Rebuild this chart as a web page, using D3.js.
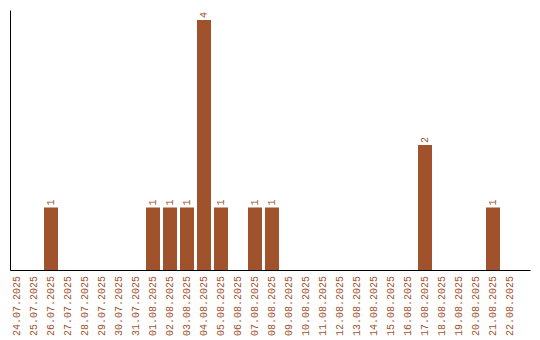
<!DOCTYPE html>
<html>
<head>
<meta charset="utf-8">
<script src="https://cdn.jsdelivr.net/npm/d3@7"></script>
<style>
  body { margin: 0; background: #fff; }
  text { font-family: "Liberation Mono", "DejaVu Sans Mono", monospace; font-size: 10px; fill: #a0522d; }
</style>
</head>
<body>
<div id="chart"></div>
<script>
// dates shown on the x axis
const dates = ['24.07.2025', '25.07.2025', '26.07.2025', '27.07.2025', '28.07.2025', '29.07.2025',
  '30.07.2025', '31.07.2025', '01.08.2025', '02.08.2025', '03.08.2025', '04.08.2025',
  '05.08.2025', '06.08.2025', '07.08.2025', '08.08.2025', '09.08.2025', '10.08.2025',
  '11.08.2025', '12.08.2025', '13.08.2025', '14.08.2025', '15.08.2025', '16.08.2025',
  '17.08.2025', '18.08.2025', '19.08.2025', '20.08.2025', '21.08.2025', '22.08.2025'];
// count per day
const counts = [0, 0, 1, 0, 0, 0, 0, 0, 1, 1, 1, 4, 1, 0, 1, 1, 0, 0, 0, 0, 0, 0, 0, 0, 2, 0, 0, 0, 1, 0];

const data = dates.map((d, i) => ({ date: d, count: counts[i] }));

const width = 540, height = 340;
const margin = { top: 10, right: 10, bottom: 70, left: 10 };
const barColor = '#a0522d';

const svg = d3.select('#chart').append('svg')
  .attr('width', width)
  .attr('height', height);

const x = d3.scaleBand()
  .domain(dates)
  .range([margin.left, width - margin.right])
  .paddingInner(3 / 17)
  .paddingOuter(0.3824)
  .align(0);

const y = d3.scaleLinear()
  .domain([0, d3.max(counts) * 1.04])
  .range([height - margin.bottom, margin.top]);

// bars
svg.append('g').selectAll('rect')
  .data(data.filter(d => d.count > 0))
  .join('rect')
  .attr('x', d => x(d.date))
  .attr('y', d => y(d.count))
  .attr('width', x.bandwidth())
  .attr('height', d => y(0) - y(d.count))
  .attr('fill', barColor);

// value labels
svg.append('g').selectAll('text')
  .data(data.filter(d => d.count > 0))
  .join('text')
  .attr('transform', d => `translate(${x(d.date) + x.bandwidth() / 2 + 3.5},${y(d.count) - 2}) rotate(-90)`)
  .attr('text-anchor', 'start')
  .text(d => d.count);

// x axis
const xAxis = svg.append('g')
  .attr('transform', `translate(0,${height - margin.bottom})`)
  .call(d3.axisBottom(x).tickSize(0).tickSizeOuter(0));
xAxis.select('.domain').attr('stroke', '#000');
xAxis.selectAll('text')
  .attr('fill', barColor)
  .attr('font-family', null)
  .attr('font-size', null)
  .attr('text-anchor', 'end')
  .attr('dy', null)
  .attr('y', 0)
  .attr('transform', 'translate(3.5,6) rotate(-90)');

// y axis
const yAxis = svg.append('g')
  .attr('transform', `translate(${margin.left},0)`)
  .call(d3.axisLeft(y).ticks(0).tickSize(0).tickSizeOuter(0));
yAxis.select('.domain').attr('stroke', '#000');
</script>
</body>
</html>
